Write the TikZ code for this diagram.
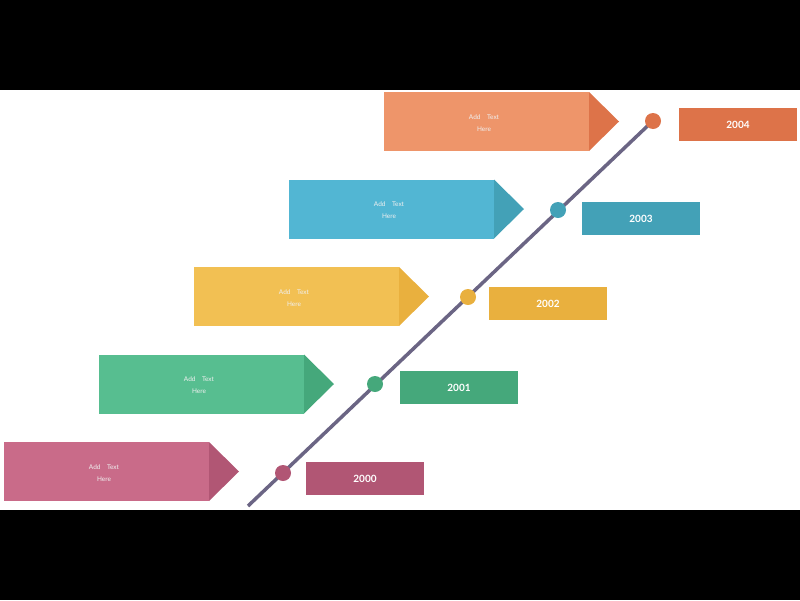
\documentclass[tikz,border=0pt]{standalone}
\usepackage{fontspec}
\setmainfont{Lato}
\usetikzlibrary{positioning, calc}

\definecolor{orgL}{HTML}{EE956A}\definecolor{orgD}{HTML}{DD7349}
\definecolor{bluL}{HTML}{52B6D3}\definecolor{bluD}{HTML}{43A1B7}
\definecolor{yelL}{HTML}{F2C053}\definecolor{yelD}{HTML}{E9B03E}
\definecolor{grnL}{HTML}{57BE90}\definecolor{grnD}{HTML}{45A87B}
\definecolor{pnkL}{HTML}{C96B89}\definecolor{pnkD}{HTML}{B15674}
\definecolor{axis}{HTML}{6B6584}

\begin{document}
\begin{tikzpicture}[
  x=1pt, y=-1pt,
  yearbox/.style={rectangle, minimum width=118pt, minimum height=33pt, inner sep=0pt,
    text=white, font=\fontsize{10}{12}\selectfont\bfseries},
  bodytext/.style={text=white!88!gray, align=center, font=\fontsize{6.5}{12}\selectfont},
  dot/.style={circle, minimum size=16pt, inner sep=0pt}
]
\useasboundingbox (0,0) rectangle (800,600);
\fill[black] (0,0) rectangle (800,90);
\fill[black] (0,510) rectangle (800,600);

% timeline axis
\coordinate (axisStart) at (248,506);
\coordinate (axisEnd) at (658,116);
\draw[axis, line width=3.5pt] (axisStart) -- (axisEnd);

% arrows, dots and year boxes
\foreach \i/\yr/\cl/\cd/\dx/\dy/\bx/\by in {
  0/2000/pnkL/pnkD/283/473/365/478.5,
  1/2001/grnL/grnD/375/384/459/387.5,
  2/2002/yelL/yelD/468/297/548/303.5,
  3/2003/bluL/bluD/558/210/641/218.5,
  4/2004/orgL/orgD/653/121/738/124.5}{
  \pgfmathsetmacro{\xa}{4+95*\i}
  \pgfmathsetmacro{\ya}{442-87.5*\i}
  \fill[\cl] (\xa,\ya) rectangle ++(205,59);
  \fill[\cd] (\xa+205,\ya) -- ++(30,29.5) -- ++(-30,29.5) -- cycle;
  \node[bodytext] (txt\yr) at (\xa+100,\ya+31) {Add\quad Text\\Here};
  \node[dot, fill=\cd] (dot\yr) at (\dx,\dy) {};
  \node[yearbox, fill=\cd] (year\yr) at (\bx,\by) {\yr};
}
\end{tikzpicture}
\end{document}
